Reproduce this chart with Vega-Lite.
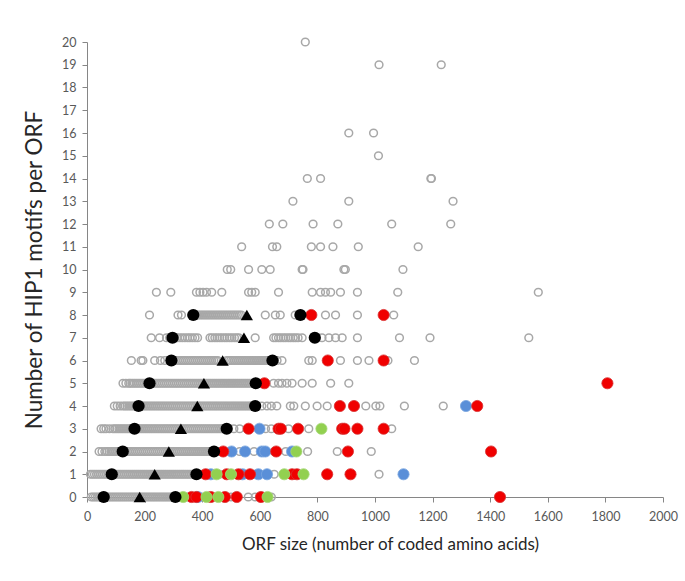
{
"$schema": "https://vega.github.io/schema/vega-lite/v6.json",
"width": 576, "height": 455,
"autosize": "none",
"padding": {"left": 87, "top": 42, "right": 22, "bottom": 84},
"background": "white",
"config": {"view": {"stroke": null}, "font": "Lato",
 "axis": {"grid": false, "domainColor": "#868686", "tickColor": "#868686", "tickSize": 5, "labelColor": "#595959", "labelFontSize": 12.5, "labelFont": "Lato", "titleFont": "Lato", "titleFontSize": 17, "titleFontWeight": "normal", "titleColor": "#262626"}},
"data": {"values": [
{"x":15,"y":0,"g":"h"},{"x":22,"y":0,"g":"h"},{"x":29,"y":0,"g":"h"},{"x":36,"y":0,"g":"h"},{"x":43,"y":0,"g":"h"},{"x":50,"y":0,"g":"h"},{"x":57,"y":0,"g":"h"},{"x":64,"y":0,"g":"h"},{"x":71,"y":0,"g":"h"},{"x":78,"y":0,"g":"h"},{"x":85,"y":0,"g":"h"},{"x":92,"y":0,"g":"h"},{"x":99,"y":0,"g":"h"},{"x":106,"y":0,"g":"h"},{"x":113,"y":0,"g":"h"},{"x":120,"y":0,"g":"h"},{"x":127,"y":0,"g":"h"},{"x":134,"y":0,"g":"h"},{"x":141,"y":0,"g":"h"},{"x":148,"y":0,"g":"h"},{"x":155,"y":0,"g":"h"},{"x":162,"y":0,"g":"h"},{"x":169,"y":0,"g":"h"},{"x":176,"y":0,"g":"h"},{"x":183,"y":0,"g":"h"},{"x":190,"y":0,"g":"h"},{"x":197,"y":0,"g":"h"},{"x":204,"y":0,"g":"h"},{"x":211,"y":0,"g":"h"},{"x":218,"y":0,"g":"h"},{"x":225,"y":0,"g":"h"},{"x":232,"y":0,"g":"h"},{"x":239,"y":0,"g":"h"},{"x":246,"y":0,"g":"h"},{"x":253,"y":0,"g":"h"},{"x":260,"y":0,"g":"h"},{"x":267,"y":0,"g":"h"},{"x":274,"y":0,"g":"h"},{"x":281,"y":0,"g":"h"},{"x":288,"y":0,"g":"h"},{"x":295,"y":0,"g":"h"},{"x":302,"y":0,"g":"h"},{"x":309,"y":0,"g":"h"},{"x":330,"y":0,"g":"h"},{"x":350,"y":0,"g":"h"},{"x":398,"y":0,"g":"h"},{"x":445,"y":0,"g":"h"},{"x":500,"y":0,"g":"h"},{"x":560,"y":0,"g":"h"},{"x":584,"y":0,"g":"h"},{"x":640,"y":0,"g":"h"},
{"x":12,"y":1,"g":"h"},{"x":19,"y":1,"g":"h"},{"x":26,"y":1,"g":"h"},{"x":33,"y":1,"g":"h"},{"x":40,"y":1,"g":"h"},{"x":47,"y":1,"g":"h"},{"x":54,"y":1,"g":"h"},{"x":61,"y":1,"g":"h"},{"x":68,"y":1,"g":"h"},{"x":75,"y":1,"g":"h"},{"x":82,"y":1,"g":"h"},{"x":89,"y":1,"g":"h"},{"x":96,"y":1,"g":"h"},{"x":103,"y":1,"g":"h"},{"x":110,"y":1,"g":"h"},{"x":117,"y":1,"g":"h"},{"x":124,"y":1,"g":"h"},{"x":131,"y":1,"g":"h"},{"x":138,"y":1,"g":"h"},{"x":145,"y":1,"g":"h"},{"x":152,"y":1,"g":"h"},{"x":159,"y":1,"g":"h"},{"x":166,"y":1,"g":"h"},{"x":173,"y":1,"g":"h"},{"x":180,"y":1,"g":"h"},{"x":187,"y":1,"g":"h"},{"x":194,"y":1,"g":"h"},{"x":201,"y":1,"g":"h"},{"x":208,"y":1,"g":"h"},{"x":215,"y":1,"g":"h"},{"x":222,"y":1,"g":"h"},{"x":229,"y":1,"g":"h"},{"x":236,"y":1,"g":"h"},{"x":243,"y":1,"g":"h"},{"x":250,"y":1,"g":"h"},{"x":257,"y":1,"g":"h"},{"x":264,"y":1,"g":"h"},{"x":271,"y":1,"g":"h"},{"x":278,"y":1,"g":"h"},{"x":285,"y":1,"g":"h"},{"x":292,"y":1,"g":"h"},{"x":299,"y":1,"g":"h"},{"x":306,"y":1,"g":"h"},{"x":313,"y":1,"g":"h"},{"x":320,"y":1,"g":"h"},{"x":327,"y":1,"g":"h"},{"x":334,"y":1,"g":"h"},{"x":341,"y":1,"g":"h"},{"x":348,"y":1,"g":"h"},{"x":355,"y":1,"g":"h"},{"x":362,"y":1,"g":"h"},{"x":369,"y":1,"g":"h"},{"x":376,"y":1,"g":"h"},{"x":383,"y":1,"g":"h"},{"x":400,"y":1,"g":"h"},{"x":430,"y":1,"g":"h"},{"x":460,"y":1,"g":"h"},{"x":540,"y":1,"g":"h"},{"x":580,"y":1,"g":"h"},{"x":650,"y":1,"g":"h"},{"x":1014,"y":1,"g":"h"},
{"x":42,"y":2,"g":"h"},{"x":52,"y":2,"g":"h"},{"x":62,"y":2,"g":"h"},{"x":70,"y":2,"g":"h"},{"x":77,"y":2,"g":"h"},{"x":84,"y":2,"g":"h"},{"x":91,"y":2,"g":"h"},{"x":98,"y":2,"g":"h"},{"x":105,"y":2,"g":"h"},{"x":112,"y":2,"g":"h"},{"x":119,"y":2,"g":"h"},{"x":126,"y":2,"g":"h"},{"x":133,"y":2,"g":"h"},{"x":140,"y":2,"g":"h"},{"x":147,"y":2,"g":"h"},{"x":154,"y":2,"g":"h"},{"x":161,"y":2,"g":"h"},{"x":168,"y":2,"g":"h"},{"x":175,"y":2,"g":"h"},{"x":182,"y":2,"g":"h"},{"x":189,"y":2,"g":"h"},{"x":196,"y":2,"g":"h"},{"x":203,"y":2,"g":"h"},{"x":210,"y":2,"g":"h"},{"x":217,"y":2,"g":"h"},{"x":224,"y":2,"g":"h"},{"x":231,"y":2,"g":"h"},{"x":238,"y":2,"g":"h"},{"x":245,"y":2,"g":"h"},{"x":252,"y":2,"g":"h"},{"x":259,"y":2,"g":"h"},{"x":266,"y":2,"g":"h"},{"x":273,"y":2,"g":"h"},{"x":280,"y":2,"g":"h"},{"x":287,"y":2,"g":"h"},{"x":294,"y":2,"g":"h"},{"x":301,"y":2,"g":"h"},{"x":308,"y":2,"g":"h"},{"x":315,"y":2,"g":"h"},{"x":322,"y":2,"g":"h"},{"x":329,"y":2,"g":"h"},{"x":336,"y":2,"g":"h"},{"x":343,"y":2,"g":"h"},{"x":350,"y":2,"g":"h"},{"x":357,"y":2,"g":"h"},{"x":364,"y":2,"g":"h"},{"x":371,"y":2,"g":"h"},{"x":378,"y":2,"g":"h"},{"x":385,"y":2,"g":"h"},{"x":392,"y":2,"g":"h"},{"x":399,"y":2,"g":"h"},{"x":406,"y":2,"g":"h"},{"x":413,"y":2,"g":"h"},{"x":420,"y":2,"g":"h"},{"x":427,"y":2,"g":"h"},{"x":434,"y":2,"g":"h"},{"x":441,"y":2,"g":"h"},{"x":460,"y":2,"g":"h"},{"x":530,"y":2,"g":"h"},{"x":580,"y":2,"g":"h"},{"x":650,"y":2,"g":"h"},{"x":690,"y":2,"g":"h"},{"x":766,"y":2,"g":"h"},{"x":869,"y":2,"g":"h"},{"x":987,"y":2,"g":"h"},
{"x":49,"y":3,"g":"h"},{"x":58,"y":3,"g":"h"},{"x":66,"y":3,"g":"h"},{"x":78,"y":3,"g":"h"},{"x":90,"y":3,"g":"h"},{"x":97,"y":3,"g":"h"},{"x":104,"y":3,"g":"h"},{"x":111,"y":3,"g":"h"},{"x":118,"y":3,"g":"h"},{"x":125,"y":3,"g":"h"},{"x":132,"y":3,"g":"h"},{"x":139,"y":3,"g":"h"},{"x":146,"y":3,"g":"h"},{"x":153,"y":3,"g":"h"},{"x":160,"y":3,"g":"h"},{"x":167,"y":3,"g":"h"},{"x":174,"y":3,"g":"h"},{"x":181,"y":3,"g":"h"},{"x":188,"y":3,"g":"h"},{"x":195,"y":3,"g":"h"},{"x":202,"y":3,"g":"h"},{"x":209,"y":3,"g":"h"},{"x":216,"y":3,"g":"h"},{"x":223,"y":3,"g":"h"},{"x":230,"y":3,"g":"h"},{"x":237,"y":3,"g":"h"},{"x":244,"y":3,"g":"h"},{"x":251,"y":3,"g":"h"},{"x":258,"y":3,"g":"h"},{"x":265,"y":3,"g":"h"},{"x":272,"y":3,"g":"h"},{"x":279,"y":3,"g":"h"},{"x":286,"y":3,"g":"h"},{"x":293,"y":3,"g":"h"},{"x":300,"y":3,"g":"h"},{"x":307,"y":3,"g":"h"},{"x":314,"y":3,"g":"h"},{"x":321,"y":3,"g":"h"},{"x":328,"y":3,"g":"h"},{"x":335,"y":3,"g":"h"},{"x":342,"y":3,"g":"h"},{"x":349,"y":3,"g":"h"},{"x":356,"y":3,"g":"h"},{"x":363,"y":3,"g":"h"},{"x":370,"y":3,"g":"h"},{"x":377,"y":3,"g":"h"},{"x":384,"y":3,"g":"h"},{"x":391,"y":3,"g":"h"},{"x":398,"y":3,"g":"h"},{"x":405,"y":3,"g":"h"},{"x":412,"y":3,"g":"h"},{"x":419,"y":3,"g":"h"},{"x":426,"y":3,"g":"h"},{"x":433,"y":3,"g":"h"},{"x":440,"y":3,"g":"h"},{"x":447,"y":3,"g":"h"},{"x":454,"y":3,"g":"h"},{"x":461,"y":3,"g":"h"},{"x":468,"y":3,"g":"h"},{"x":475,"y":3,"g":"h"},{"x":482,"y":3,"g":"h"},{"x":489,"y":3,"g":"h"},{"x":510,"y":3,"g":"h"},{"x":530,"y":3,"g":"h"},{"x":620,"y":3,"g":"h"},{"x":640,"y":3,"g":"h"},{"x":700,"y":3,"g":"h"},{"x":770,"y":3,"g":"h"},{"x":1058,"y":3,"g":"h"},
{"x":95,"y":4,"g":"h"},{"x":105,"y":4,"g":"h"},{"x":115,"y":4,"g":"h"},{"x":125,"y":4,"g":"h"},{"x":132,"y":4,"g":"h"},{"x":139,"y":4,"g":"h"},{"x":146,"y":4,"g":"h"},{"x":153,"y":4,"g":"h"},{"x":160,"y":4,"g":"h"},{"x":167,"y":4,"g":"h"},{"x":174,"y":4,"g":"h"},{"x":181,"y":4,"g":"h"},{"x":188,"y":4,"g":"h"},{"x":195,"y":4,"g":"h"},{"x":202,"y":4,"g":"h"},{"x":209,"y":4,"g":"h"},{"x":216,"y":4,"g":"h"},{"x":223,"y":4,"g":"h"},{"x":230,"y":4,"g":"h"},{"x":237,"y":4,"g":"h"},{"x":244,"y":4,"g":"h"},{"x":251,"y":4,"g":"h"},{"x":258,"y":4,"g":"h"},{"x":265,"y":4,"g":"h"},{"x":272,"y":4,"g":"h"},{"x":279,"y":4,"g":"h"},{"x":286,"y":4,"g":"h"},{"x":293,"y":4,"g":"h"},{"x":300,"y":4,"g":"h"},{"x":307,"y":4,"g":"h"},{"x":314,"y":4,"g":"h"},{"x":321,"y":4,"g":"h"},{"x":328,"y":4,"g":"h"},{"x":335,"y":4,"g":"h"},{"x":342,"y":4,"g":"h"},{"x":349,"y":4,"g":"h"},{"x":356,"y":4,"g":"h"},{"x":363,"y":4,"g":"h"},{"x":370,"y":4,"g":"h"},{"x":377,"y":4,"g":"h"},{"x":384,"y":4,"g":"h"},{"x":391,"y":4,"g":"h"},{"x":398,"y":4,"g":"h"},{"x":405,"y":4,"g":"h"},{"x":412,"y":4,"g":"h"},{"x":419,"y":4,"g":"h"},{"x":426,"y":4,"g":"h"},{"x":433,"y":4,"g":"h"},{"x":440,"y":4,"g":"h"},{"x":447,"y":4,"g":"h"},{"x":454,"y":4,"g":"h"},{"x":461,"y":4,"g":"h"},{"x":468,"y":4,"g":"h"},{"x":475,"y":4,"g":"h"},{"x":482,"y":4,"g":"h"},{"x":489,"y":4,"g":"h"},{"x":496,"y":4,"g":"h"},{"x":503,"y":4,"g":"h"},{"x":510,"y":4,"g":"h"},{"x":517,"y":4,"g":"h"},{"x":524,"y":4,"g":"h"},{"x":531,"y":4,"g":"h"},{"x":538,"y":4,"g":"h"},{"x":545,"y":4,"g":"h"},{"x":552,"y":4,"g":"h"},{"x":559,"y":4,"g":"h"},{"x":566,"y":4,"g":"h"},{"x":573,"y":4,"g":"h"},{"x":580,"y":4,"g":"h"},{"x":607,"y":4,"g":"h"},{"x":625,"y":4,"g":"h"},{"x":640,"y":4,"g":"h"},{"x":659,"y":4,"g":"h"},{"x":706,"y":4,"g":"h"},{"x":718,"y":4,"g":"h"},{"x":758,"y":4,"g":"h"},{"x":799,"y":4,"g":"h"},{"x":834,"y":4,"g":"h"},{"x":968,"y":4,"g":"h"},{"x":1003,"y":4,"g":"h"},{"x":1017,"y":4,"g":"h"},{"x":1102,"y":4,"g":"h"},{"x":1237,"y":4,"g":"h"},
{"x":125,"y":5,"g":"h"},{"x":135,"y":5,"g":"h"},{"x":145,"y":5,"g":"h"},{"x":150,"y":5,"g":"h"},{"x":157,"y":5,"g":"h"},{"x":164,"y":5,"g":"h"},{"x":171,"y":5,"g":"h"},{"x":178,"y":5,"g":"h"},{"x":185,"y":5,"g":"h"},{"x":192,"y":5,"g":"h"},{"x":199,"y":5,"g":"h"},{"x":206,"y":5,"g":"h"},{"x":213,"y":5,"g":"h"},{"x":220,"y":5,"g":"h"},{"x":227,"y":5,"g":"h"},{"x":234,"y":5,"g":"h"},{"x":241,"y":5,"g":"h"},{"x":248,"y":5,"g":"h"},{"x":255,"y":5,"g":"h"},{"x":262,"y":5,"g":"h"},{"x":269,"y":5,"g":"h"},{"x":276,"y":5,"g":"h"},{"x":283,"y":5,"g":"h"},{"x":290,"y":5,"g":"h"},{"x":297,"y":5,"g":"h"},{"x":304,"y":5,"g":"h"},{"x":311,"y":5,"g":"h"},{"x":318,"y":5,"g":"h"},{"x":325,"y":5,"g":"h"},{"x":332,"y":5,"g":"h"},{"x":339,"y":5,"g":"h"},{"x":346,"y":5,"g":"h"},{"x":353,"y":5,"g":"h"},{"x":360,"y":5,"g":"h"},{"x":367,"y":5,"g":"h"},{"x":374,"y":5,"g":"h"},{"x":381,"y":5,"g":"h"},{"x":388,"y":5,"g":"h"},{"x":395,"y":5,"g":"h"},{"x":402,"y":5,"g":"h"},{"x":409,"y":5,"g":"h"},{"x":416,"y":5,"g":"h"},{"x":423,"y":5,"g":"h"},{"x":430,"y":5,"g":"h"},{"x":437,"y":5,"g":"h"},{"x":444,"y":5,"g":"h"},{"x":451,"y":5,"g":"h"},{"x":458,"y":5,"g":"h"},{"x":465,"y":5,"g":"h"},{"x":472,"y":5,"g":"h"},{"x":479,"y":5,"g":"h"},{"x":486,"y":5,"g":"h"},{"x":493,"y":5,"g":"h"},{"x":500,"y":5,"g":"h"},{"x":507,"y":5,"g":"h"},{"x":514,"y":5,"g":"h"},{"x":521,"y":5,"g":"h"},{"x":528,"y":5,"g":"h"},{"x":535,"y":5,"g":"h"},{"x":542,"y":5,"g":"h"},{"x":549,"y":5,"g":"h"},{"x":556,"y":5,"g":"h"},{"x":563,"y":5,"g":"h"},{"x":570,"y":5,"g":"h"},{"x":577,"y":5,"g":"h"},{"x":584,"y":5,"g":"h"},{"x":600,"y":5,"g":"h"},{"x":648,"y":5,"g":"h"},{"x":665,"y":5,"g":"h"},{"x":677,"y":5,"g":"h"},{"x":694,"y":5,"g":"h"},{"x":712,"y":5,"g":"h"},{"x":747,"y":5,"g":"h"},{"x":782,"y":5,"g":"h"},{"x":846,"y":5,"g":"h"},{"x":909,"y":5,"g":"h"},
{"x":154,"y":6,"g":"h"},{"x":188,"y":6,"g":"h"},{"x":194,"y":6,"g":"h"},{"x":235,"y":6,"g":"h"},{"x":255,"y":6,"g":"h"},{"x":270,"y":6,"g":"h"},{"x":300,"y":6,"g":"h"},{"x":307,"y":6,"g":"h"},{"x":314,"y":6,"g":"h"},{"x":321,"y":6,"g":"h"},{"x":328,"y":6,"g":"h"},{"x":335,"y":6,"g":"h"},{"x":342,"y":6,"g":"h"},{"x":349,"y":6,"g":"h"},{"x":356,"y":6,"g":"h"},{"x":363,"y":6,"g":"h"},{"x":370,"y":6,"g":"h"},{"x":377,"y":6,"g":"h"},{"x":384,"y":6,"g":"h"},{"x":391,"y":6,"g":"h"},{"x":398,"y":6,"g":"h"},{"x":405,"y":6,"g":"h"},{"x":412,"y":6,"g":"h"},{"x":419,"y":6,"g":"h"},{"x":426,"y":6,"g":"h"},{"x":433,"y":6,"g":"h"},{"x":440,"y":6,"g":"h"},{"x":447,"y":6,"g":"h"},{"x":454,"y":6,"g":"h"},{"x":485,"y":6,"g":"h"},{"x":492,"y":6,"g":"h"},{"x":499,"y":6,"g":"h"},{"x":506,"y":6,"g":"h"},{"x":513,"y":6,"g":"h"},{"x":520,"y":6,"g":"h"},{"x":527,"y":6,"g":"h"},{"x":534,"y":6,"g":"h"},{"x":541,"y":6,"g":"h"},{"x":548,"y":6,"g":"h"},{"x":555,"y":6,"g":"h"},{"x":562,"y":6,"g":"h"},{"x":569,"y":6,"g":"h"},{"x":576,"y":6,"g":"h"},{"x":583,"y":6,"g":"h"},{"x":590,"y":6,"g":"h"},{"x":597,"y":6,"g":"h"},{"x":604,"y":6,"g":"h"},{"x":611,"y":6,"g":"h"},{"x":618,"y":6,"g":"h"},{"x":625,"y":6,"g":"h"},{"x":632,"y":6,"g":"h"},{"x":660,"y":6,"g":"h"},{"x":677,"y":6,"g":"h"},{"x":770,"y":6,"g":"h"},{"x":782,"y":6,"g":"h"},{"x":880,"y":6,"g":"h"},{"x":939,"y":6,"g":"h"},{"x":979,"y":6,"g":"h"},{"x":1045,"y":6,"g":"h"},{"x":1137,"y":6,"g":"h"},
{"x":223,"y":7,"g":"h"},{"x":252,"y":7,"g":"h"},{"x":276,"y":7,"g":"h"},{"x":287,"y":7,"g":"h"},{"x":305,"y":7,"g":"h"},{"x":313,"y":7,"g":"h"},{"x":322,"y":7,"g":"h"},{"x":331,"y":7,"g":"h"},{"x":340,"y":7,"g":"h"},{"x":349,"y":7,"g":"h"},{"x":357,"y":7,"g":"h"},{"x":366,"y":7,"g":"h"},{"x":375,"y":7,"g":"h"},{"x":384,"y":7,"g":"h"},{"x":427,"y":7,"g":"h"},{"x":435,"y":7,"g":"h"},{"x":444,"y":7,"g":"h"},{"x":452,"y":7,"g":"h"},{"x":461,"y":7,"g":"h"},{"x":469,"y":7,"g":"h"},{"x":478,"y":7,"g":"h"},{"x":486,"y":7,"g":"h"},{"x":495,"y":7,"g":"h"},{"x":503,"y":7,"g":"h"},{"x":512,"y":7,"g":"h"},{"x":520,"y":7,"g":"h"},{"x":527,"y":7,"g":"h"},{"x":584,"y":7,"g":"h"},{"x":648,"y":7,"g":"h"},{"x":656,"y":7,"g":"h"},{"x":665,"y":7,"g":"h"},{"x":673,"y":7,"g":"h"},{"x":682,"y":7,"g":"h"},{"x":690,"y":7,"g":"h"},{"x":699,"y":7,"g":"h"},{"x":707,"y":7,"g":"h"},{"x":716,"y":7,"g":"h"},{"x":724,"y":7,"g":"h"},{"x":733,"y":7,"g":"h"},{"x":747,"y":7,"g":"h"},{"x":816,"y":7,"g":"h"},{"x":840,"y":7,"g":"h"},{"x":863,"y":7,"g":"h"},{"x":886,"y":7,"g":"h"},{"x":939,"y":7,"g":"h"},{"x":1085,"y":7,"g":"h"},{"x":1191,"y":7,"g":"h"},{"x":1534,"y":7,"g":"h"},
{"x":217,"y":8,"g":"h"},{"x":316,"y":8,"g":"h"},{"x":328,"y":8,"g":"h"},{"x":375,"y":8,"g":"h"},{"x":382,"y":8,"g":"h"},{"x":389,"y":8,"g":"h"},{"x":396,"y":8,"g":"h"},{"x":403,"y":8,"g":"h"},{"x":410,"y":8,"g":"h"},{"x":417,"y":8,"g":"h"},{"x":424,"y":8,"g":"h"},{"x":431,"y":8,"g":"h"},{"x":438,"y":8,"g":"h"},{"x":445,"y":8,"g":"h"},{"x":452,"y":8,"g":"h"},{"x":459,"y":8,"g":"h"},{"x":466,"y":8,"g":"h"},{"x":473,"y":8,"g":"h"},{"x":480,"y":8,"g":"h"},{"x":487,"y":8,"g":"h"},{"x":494,"y":8,"g":"h"},{"x":501,"y":8,"g":"h"},{"x":508,"y":8,"g":"h"},{"x":515,"y":8,"g":"h"},{"x":522,"y":8,"g":"h"},{"x":529,"y":8,"g":"h"},{"x":536,"y":8,"g":"h"},{"x":619,"y":8,"g":"h"},{"x":654,"y":8,"g":"h"},{"x":671,"y":8,"g":"h"},{"x":723,"y":8,"g":"h"},{"x":828,"y":8,"g":"h"},{"x":863,"y":8,"g":"h"},{"x":939,"y":8,"g":"h"},{"x":1065,"y":8,"g":"h"},
{"x":241,"y":9,"g":"h"},{"x":291,"y":9,"g":"h"},{"x":380,"y":9,"g":"h"},{"x":392,"y":9,"g":"h"},{"x":403,"y":9,"g":"h"},{"x":415,"y":9,"g":"h"},{"x":433,"y":9,"g":"h"},{"x":468,"y":9,"g":"h"},{"x":561,"y":9,"g":"h"},{"x":572,"y":9,"g":"h"},{"x":584,"y":9,"g":"h"},{"x":665,"y":9,"g":"h"},{"x":782,"y":9,"g":"h"},{"x":811,"y":9,"g":"h"},{"x":828,"y":9,"g":"h"},{"x":846,"y":9,"g":"h"},{"x":880,"y":9,"g":"h"},{"x":939,"y":9,"g":"h"},{"x":1079,"y":9,"g":"h"},{"x":1567,"y":9,"g":"h"},
{"x":487,"y":10,"g":"h"},{"x":499,"y":10,"g":"h"},{"x":561,"y":10,"g":"h"},{"x":607,"y":10,"g":"h"},{"x":636,"y":10,"g":"h"},{"x":747,"y":10,"g":"h"},{"x":750,"y":10,"g":"h"},{"x":892,"y":10,"g":"h"},{"x":897,"y":10,"g":"h"},{"x":1097,"y":10,"g":"h"},
{"x":537,"y":11,"g":"h"},{"x":644,"y":11,"g":"h"},{"x":659,"y":11,"g":"h"},{"x":779,"y":11,"g":"h"},{"x":811,"y":11,"g":"h"},{"x":854,"y":11,"g":"h"},{"x":942,"y":11,"g":"h"},{"x":1150,"y":11,"g":"h"},
{"x":633,"y":12,"g":"h"},{"x":680,"y":12,"g":"h"},{"x":785,"y":12,"g":"h"},{"x":871,"y":12,"g":"h"},{"x":1058,"y":12,"g":"h"},{"x":1263,"y":12,"g":"h"},
{"x":715,"y":13,"g":"h"},{"x":909,"y":13,"g":"h"},{"x":1271,"y":13,"g":"h"},
{"x":765,"y":14,"g":"h"},{"x":811,"y":14,"g":"h"},{"x":1194,"y":14,"g":"h"},{"x":1196,"y":14,"g":"h"},
{"x":1012,"y":15,"g":"h"},
{"x":909,"y":16,"g":"h"},{"x":995,"y":16,"g":"h"},
{"x":1014,"y":19,"g":"h"},{"x":1230,"y":19,"g":"h"},
{"x":758,"y":20,"g":"h"},
{"x":385,"y":0,"g":"blue"},{"x":430,"y":1,"g":"blue"},{"x":540,"y":1,"g":"blue"},{"x":595,"y":1,"g":"blue"},{"x":625,"y":1,"g":"blue"},{"x":1099,"y":1,"g":"blue"},{"x":502,"y":2,"g":"blue"},{"x":549,"y":2,"g":"blue"},{"x":607,"y":2,"g":"blue"},{"x":619,"y":2,"g":"blue"},{"x":712,"y":2,"g":"blue"},{"x":599,"y":3,"g":"blue"},{"x":1316,"y":4,"g":"blue"},
{"x":363,"y":0,"g":"red"},{"x":380,"y":0,"g":"red"},{"x":430,"y":0,"g":"red"},{"x":479,"y":0,"g":"red"},{"x":520,"y":0,"g":"red"},{"x":604,"y":0,"g":"red"},{"x":1434,"y":0,"g":"red"},
{"x":412,"y":1,"g":"red"},{"x":485,"y":1,"g":"red"},{"x":526,"y":1,"g":"red"},{"x":566,"y":1,"g":"red"},{"x":712,"y":1,"g":"red"},{"x":729,"y":1,"g":"red"},{"x":834,"y":1,"g":"red"},{"x":915,"y":1,"g":"red"},
{"x":473,"y":2,"g":"red"},{"x":657,"y":2,"g":"red"},{"x":906,"y":2,"g":"red"},{"x":1403,"y":2,"g":"red"},
{"x":561,"y":3,"g":"red"},{"x":665,"y":3,"g":"red"},{"x":673,"y":3,"g":"red"},{"x":733,"y":3,"g":"red"},{"x":886,"y":3,"g":"red"},{"x":894,"y":3,"g":"red"},{"x":939,"y":3,"g":"red"},{"x":1030,"y":3,"g":"red"},
{"x":878,"y":4,"g":"red"},{"x":927,"y":4,"g":"red"},{"x":1355,"y":4,"g":"red"},
{"x":616,"y":5,"g":"red"},{"x":1807,"y":5,"g":"red"},
{"x":836,"y":6,"g":"red"},{"x":1030,"y":6,"g":"red"},
{"x":779,"y":8,"g":"red"},{"x":1030,"y":8,"g":"red"},
{"x":334,"y":0,"g":"green"},{"x":415,"y":0,"g":"green"},{"x":456,"y":0,"g":"green"},{"x":627,"y":0,"g":"green"},
{"x":450,"y":1,"g":"green"},{"x":500,"y":1,"g":"green"},{"x":685,"y":1,"g":"green"},{"x":752,"y":1,"g":"green"},
{"x":727,"y":2,"g":"green"},{"x":814,"y":3,"g":"green"},
{"x":58,"y":0,"g":"p"},{"x":307,"y":0,"g":"p"},{"x":86,"y":1,"g":"p"},{"x":380,"y":1,"g":"p"},{"x":124,"y":2,"g":"p"},{"x":441,"y":2,"g":"p"},{"x":165,"y":3,"g":"p"},{"x":485,"y":3,"g":"p"},{"x":179,"y":4,"g":"p"},{"x":584,"y":4,"g":"p"},{"x":217,"y":5,"g":"p"},{"x":586,"y":5,"g":"p"},{"x":293,"y":6,"g":"p"},{"x":644,"y":6,"g":"p"},{"x":297,"y":7,"g":"p"},{"x":791,"y":7,"g":"p"},{"x":369,"y":8,"g":"p"},{"x":741,"y":8,"g":"p"},
{"x":183,"y":0,"g":"m"},{"x":235,"y":1,"g":"m"},{"x":284,"y":2,"g":"m"},{"x":326,"y":3,"g":"m"},{"x":383,"y":4,"g":"m"},{"x":406,"y":5,"g":"m"},{"x":471,"y":6,"g":"m"},{"x":545,"y":7,"g":"m"},{"x":555,"y":8,"g":"m"}
]},
"encoding": {
 "x": {"field": "x", "type": "quantitative", "scale": {"domain": [0, 2000], "nice": false, "zero": false},
   "axis": {"values": [0,200,400,600,800,1000,1200,1400,1600,1800,2000], "format": "d", "title": "ORF size (number of coded amino acids)", "labelPadding": 8, "titlePadding": 14, "titleX": 303, "labelFlush": false}},
 "y": {"field": "y", "type": "quantitative", "scale": {"domain": [0, 20], "nice": false},
   "axis": {"values": [0,1,2,3,4,5,6,7,8,9,10,11,12,13,14,15,16,17,18,19,20], "format": "d", "title": "Number of HIP1 motifs per ORF", "titleFontSize": 22.5, "labelPadding": 6, "titlePadding": 15, "labelFlush": false}}
},
"layer": [
 {"transform": [{"filter": "datum.g == 'h'"}], "mark": {"type": "point", "shape": "circle", "filled": false, "stroke": "#A8A8A8", "strokeWidth": 1.5, "size": 60, "opacity": 1, "clip": false}},
 {"transform": [{"filter": "datum.g == 'red' || datum.g == 'blue' || datum.g == 'green'"}], "mark": {"type": "circle", "size": 125, "opacity": 1, "strokeWidth": 0.8},
  "encoding": {"color": {"field": "g", "type": "nominal", "scale": {"domain": ["red", "blue", "green"], "range": ["#F00000", "#5A8FD8", "#92D050"]}, "legend": null},
   "stroke": {"field": "g", "type": "nominal", "scale": {"domain": ["red", "blue", "green"], "range": ["#D83030", "#7AA6E0", "#A6D878"]}, "legend": null}}},
 {"transform": [{"filter": "datum.g == 'p'"}], "mark": {"type": "circle", "size": 150, "color": "#000000", "opacity": 1}},
 {"transform": [{"filter": "datum.g == 'm'"}], "mark": {"type": "point", "shape": "triangle-up", "filled": true, "size": 150, "color": "#000000", "opacity": 1}}
]
}
